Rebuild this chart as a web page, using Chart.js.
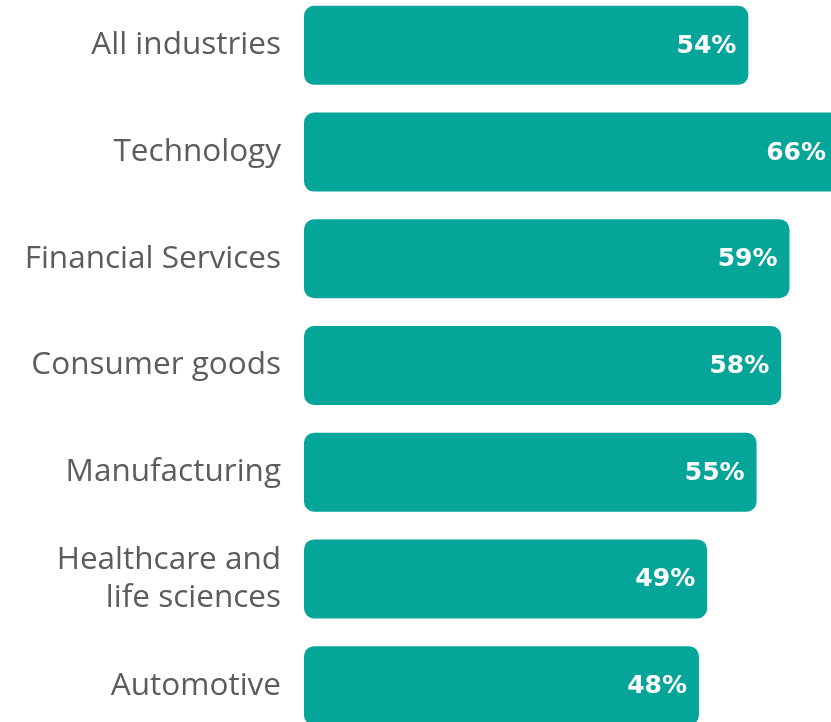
<!DOCTYPE html>
<html>
<head>
<meta charset="utf-8">
<script src="https://cdn.jsdelivr.net/npm/chart.js@4.4.1/dist/chart.umd.min.js"></script>
<style>
  html, body { margin: 0; padding: 0; background: #ffffff; overflow: hidden; width: 831px; height: 722px; }
  #wrap { position: absolute; left: 0; top: -8px; width: 880px; height: 747px; }
</style>
</head>
<body>
<div id="wrap"><canvas id="chart" width="880" height="747"></canvas></div>
<script>
const categories = [
  'All industries',
  'Technology',
  'Financial Services',
  'Consumer goods',
  'Manufacturing',
  ['Healthcare and', 'life sciences'],
  'Automotive'
];
const shares = [54, 66, 59, 58, 55, 49, 48];
const valueLabels = ['54%', '66%', '59%', '58%', '55%', '49%', '48%'];

const TEAL = '#06a59a';
const VISIBLE_RIGHT = 826;

// White value text at the inner end of each bar, kept inside the visible page
const valueLabelPlugin = {
  id: 'valueLabels',
  afterDatasetsDraw(chart) {
    const ctx = chart.ctx;
    const meta = chart.getDatasetMeta(0);
    ctx.save();
    ctx.fillStyle = '#ffffff';
    ctx.font = 'bold 25px "DejaVu Sans", sans-serif';
    ctx.textAlign = 'right';
    ctx.textBaseline = 'middle';
    meta.data.forEach((bar, i) => {
      const x = Math.min(bar.x - 12, VISIBLE_RIGHT);
      ctx.fillText(valueLabels[i], x, bar.y + 1);
    });
    ctx.restore();
  }
};

new Chart(document.getElementById('chart'), {
  type: 'bar',
  data: {
    labels: categories,
    datasets: [{
      data: shares,
      backgroundColor: TEAL,
      borderRadius: 10,
      borderSkipped: false,
      categoryPercentage: 1,
      barPercentage: 0.74
    }]
  },
  options: {
    indexAxis: 'y',
    responsive: false,
    animation: false,
    devicePixelRatio: 1,
    layout: { padding: 0 },
    plugins: {
      legend: { display: false },
      tooltip: { enabled: false }
    },
    scales: {
      x: {
        display: false,
        min: 0,
        max: 70
      },
      y: {
        grid: { display: false, drawTicks: false },
        border: { display: false },
        ticks: {
          color: '#5b5b60',
          padding: 23,
          font: { family: '"Open Sans", sans-serif', size: 31.5, lineHeight: 1.21 }
        },
        afterFit(scale) {
          scale.width = 304;
          scale.paddingTop = 0;
          scale.paddingBottom = 0;
        }
      }
    }
  },
  plugins: [valueLabelPlugin]
});
</script>
</body>
</html>
